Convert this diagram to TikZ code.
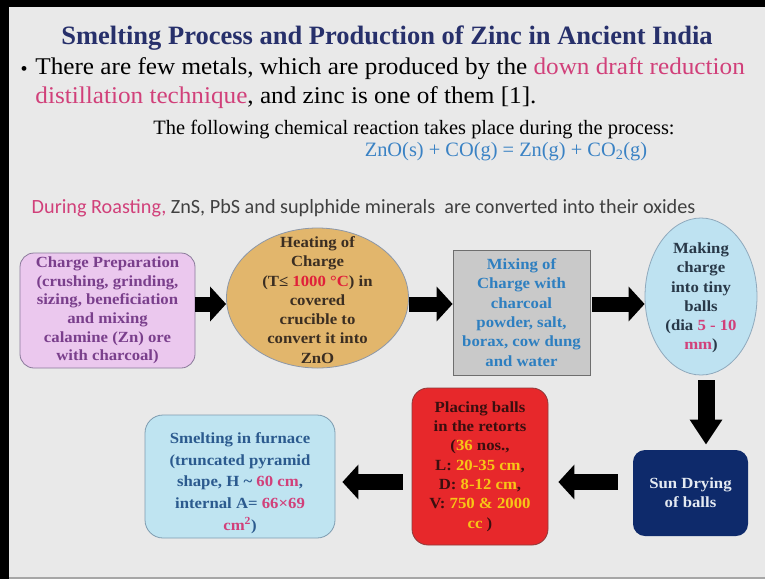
\documentclass[tikz,border=0pt]{standalone}
\usepackage{fontspec}
\setmainfont{Liberation Serif}
\newfontfamily\calibfont{Carlito}
\newfontfamily\boxfont[FakeStretch=1.08]{Liberation Serif}
\newfontfamily\bodyfont[FakeStretch=1.05]{Liberation Serif}
\usetikzlibrary{shapes.geometric,arrows.meta}

\begin{document}
\begin{tikzpicture}[x=1pt,y=-1pt,thick]
\definecolor{slidebg}{HTML}{E9E9E9}
\definecolor{titlenavy}{HTML}{27306B}
\definecolor{pinkq}{HTML}{D1407A}
\definecolor{reacblue}{HTML}{3A82C4}
\definecolor{prepfill}{HTML}{EBC8EE}
\definecolor{prepedge}{HTML}{8A7A9A}
\definecolor{preptext}{HTML}{7A3F8C}
\definecolor{heatfill}{HTML}{E2B66C}
\definecolor{heatedge}{HTML}{8C97A8}
\definecolor{heattext}{HTML}{3B2E22}
\definecolor{hotred}{HTML}{E0203A}
\definecolor{mixfill}{HTML}{C9C9C9}
\definecolor{mixedge}{HTML}{6E6E6E}
\definecolor{mixtext}{HTML}{2E7FC0}
\definecolor{ballfill}{HTML}{BEE2F1}
\definecolor{balledge}{HTML}{8FA9BC}
\definecolor{balltext}{HTML}{283848}
\definecolor{sunfill}{HTML}{0E2A6B}
\definecolor{suntext}{HTML}{E4EAF2}
\definecolor{retortfill}{HTML}{E7282B}
\definecolor{retortedge}{HTML}{8E3A3A}
\definecolor{retorttext}{HTML}{3A0F0F}
\definecolor{yellowq}{HTML}{F7C616}
\definecolor{smeltfill}{HTML}{BFE4F1}
\definecolor{smeltedge}{HTML}{7E9CB0}
\definecolor{smelttext}{HTML}{2B5A8E}
\tikzset{
  boxtext/.style={align=center,inner sep=0pt,font=\boxfont\bfseries\fontsize{15.5}{19.3}\selectfont},
  prepbox/.style={boxtext,draw=prepedge,fill=prepfill,text=preptext,rounded corners=14pt,
    minimum width=175pt,minimum height=115pt,font=\boxfont\bfseries\fontsize{15.5}{18.6}\selectfont},
  heatshape/.style={ellipse,draw=heatedge,fill=heatfill,minimum width=182pt,minimum height=140pt,inner sep=0pt},
  mixbox/.style={boxtext,draw=mixedge,fill=mixfill,text=mixtext,minimum width=137pt,minimum height=125pt},
  ballshape/.style={ellipse,draw=balledge,fill=ballfill,minimum width=112pt,minimum height=157pt,inner sep=0pt},
  sunbox/.style={boxtext,fill=sunfill,text=suntext,rounded corners=12pt,minimum width=115pt,minimum height=86pt},
  retortbox/.style={boxtext,draw=retortedge,fill=retortfill,text=retorttext,rounded corners=16pt,
    minimum width=136pt,minimum height=157pt},
  smeltbox/.style={draw=smeltedge,fill=smeltfill,rounded corners=18pt,minimum width=190pt,minimum height=123pt},
  fatarrow/.style={draw=black,line width=15pt,-{Triangle[width=34pt,length=16pt]}},
  downarrow/.style={draw=black,line width=17pt,-{Triangle[width=31pt,length=25pt]}},
}
\useasboundingbox (0,0) rectangle (765,579);
% slide
\fill[slidebg] (0,0) rectangle (765,579);
\fill[black] (0,0) rectangle (9,579);
\fill[black] (0,0) rectangle (765,7);
\draw[gray!70,line width=1.5pt] (9,578) -- (765,578);
% heading and text
\node[anchor=base,text=titlenavy,font=\bfseries\fontsize{26.5}{30}\selectfont] (title) at (387,44)
  {Smelting Process and Production of Zinc in Ancient India};
\node[anchor=base west,font=\fontsize{20}{24}\selectfont] (dot) at (17,75) {\textbullet};
\node[anchor=north west,align=left,inner sep=0pt,font=\bodyfont\fontsize{24}{29}\selectfont] (bullet) at (35,57)
  {There are few metals, which are produced by the \textcolor{pinkq}{down draft reduction}\\
   \textcolor{pinkq}{distillation technique}, and zinc is one of them [1].};
\node[anchor=base,font=\fontsize{20.4}{24}\selectfont] (follow) at (414,134)
  {The following chemical reaction takes place during the process:};
\node[anchor=base,text=reacblue,font=\fontsize{20.4}{24}\selectfont] (reaction) at (506,156)
  {ZnO(s) + CO(g) = Zn(g) + CO\textsubscript{2}(g)};
\node[anchor=base west,text=black!75,font=\calibfont\fontsize{20.2}{24}\selectfont] (roast) at (28,213)
  {\textcolor{pinkq}{During Roasting,} ZnS, PbS and suplphide minerals\ \ are converted into their oxides};
% process steps
\node[prepbox] (prep) at (107.5,310.5) {Charge Preparation\\(crushing, grinding,\\sizing, beneficiation\\and mixing\\calamine (Zn) ore\\with charcoal)};
\node[heatshape] (heat) at (317.5,298) {};
\node[boxtext,text=heattext] (heat-t) at (317.5,300) {Heating of\\Charge\\(T≤ \textcolor{hotred}{1000 °C}) in\\covered\\crucible to\\convert it into\\ZnO};
\node[mixbox] (mix) at (521.5,312.5) {Mixing of\\Charge with\\charcoal\\powder, salt,\\borax, cow dung\\and water};
\node[ballshape] (ball) at (701,296.5) {};
\node[boxtext,text=balltext] (ball-t) at (701,298) {Making\\charge\\into tiny\\balls\\(dia \textcolor{pinkq}{5 - 10}\\\textcolor{pinkq}{mm})};
\node[sunbox] (sun) at (690.5,493) {Sun Drying\\of balls};
\node[retortbox] (retort) at (480,466.5) {Placing balls\\in the retorts\\(\textcolor{yellowq}{36} nos.,\\L: \textcolor{yellowq}{20-35 cm},\\D: \textcolor{yellowq}{8-12 cm},\\V: \textcolor{yellowq}{750 \& 2000}\\\textcolor{yellowq}{cc} )};
\node[smeltbox] (smelt) at (240,476.5) {};
\node[boxtext,text=smelttext,font=\boxfont\bfseries\fontsize{15.5}{21.7}\selectfont] (smelt-t) at (240,483) {Smelting in furnace\\(truncated pyramid\\shape, H \textasciitilde{} \textcolor{pinkq}{60 cm},\\internal A= \textcolor{pinkq}{66×69}\\\textcolor{pinkq}{cm\textsuperscript{2}})};
% arrows
\coordinate (toprow) at (0,304);
\coordinate (botrow) at (0,482);
\coordinate (downcol) at (706,0);
\draw[fatarrow] (prep.east |- toprow) -- (heat.west |- toprow);
\draw[fatarrow] (heat.east |- toprow) -- (mix.west |- toprow);
\draw[fatarrow,shorten <=2pt] (mix.east |- toprow) -- (ball.west |- toprow);
\draw[downarrow,shorten <=5pt,shorten >=5pt] (ball.south -| downcol) -- (sun.north -| downcol);
\draw[fatarrow,line width=16pt,shorten <=15pt,shorten >=10pt] (sun.west |- botrow) -- (retort.east |- botrow);
\draw[fatarrow,line width=16pt,shorten <=9pt,shorten >=7pt] (retort.west |- botrow) -- (smelt.east |- botrow);
\end{tikzpicture}
\end{document}
